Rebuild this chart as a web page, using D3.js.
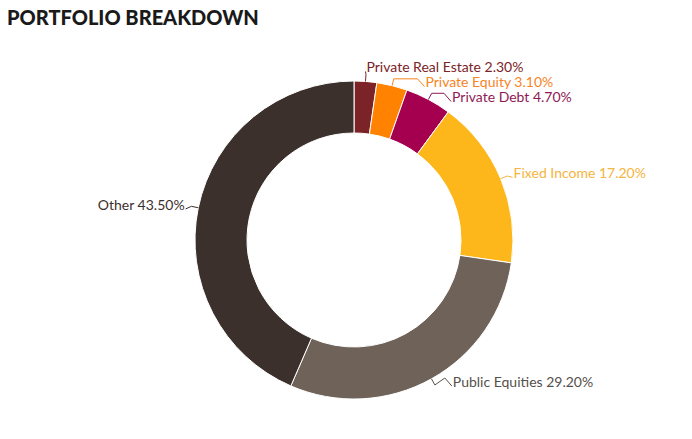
<!DOCTYPE html>
<html lang="en">
<head>
<meta charset="utf-8">
<title>Portfolio Breakdown</title>
<script src="https://cdnjs.cloudflare.com/ajax/libs/d3/7.8.5/d3.min.js"></script>
<style>
  body { margin: 0; background: #fff; }
  svg text { font-family: Lato, "Open Sans", sans-serif; }
</style>
</head>
<body>
<script>
// chart data
var categories = ["Private Real Estate", "Private Equity", "Private Debt", "Fixed Income", "Public Equities", "Other"];
var shares = [2.3, 3.1, 4.7, 17.2, 29.2, 43.5];
var sliceColors = ["#7b2327", "#ff8200", "#a50050", "#fdb71a", "#6e6259", "#3b302c"];
var labelColors = ["#7b2327", "#f7841f", "#8e1a55", "#f6b440", "#55504b", "#3b302c"];

var W = 692, H = 439;
var cx = 354, cy = 240;
var outerR = 159, innerR = 107;
var labelR = 173;
var plotBottom = 390; // labels are kept inside the plot area

var svg = d3.select("body").append("svg")
    .attr("width", W)
    .attr("height", H);

svg.append("text")
    .attr("x", 7)
    .attr("y", 25)
    .attr("font-size", "20px")
    .attr("font-weight", "900")
    .attr("fill", "#1a1a1a")
    .text("PORTFOLIO BREAKDOWN");

var data = categories.map(function(c, i) {
  return {name: c, value: shares[i], color: sliceColors[i], lcolor: labelColors[i]};
});

var pie = d3.pie().sort(null).value(function(d) { return d.value; });
var arcs = pie(data);

var arc = d3.arc().innerRadius(innerR).outerRadius(outerR);

var g = svg.append("g").attr("transform", "translate(" + cx + "," + cy + ")");

g.selectAll("path.slice")
  .data(arcs)
  .enter().append("path")
    .attr("class", "slice")
    .attr("d", arc)
    .attr("fill", function(d) { return d.data.color; })
    .attr("stroke", "#fff")
    .attr("stroke-width", 1);

// label layout: natural spot on a circle, then push apart
arcs.forEach(function(d) {
  var a = (d.startAngle + d.endAngle) / 2;
  d.mid = a;
  d.right = Math.sin(a) >= 0;
  d.ly = -labelR * Math.cos(a);
  d.ly = Math.min(d.ly, plotBottom - 8 - cy);
});

function spread(list, gap) {
  list.sort(function(a, b) { return a.ly - b.ly; });
  for (var i = 1; i < list.length; i++) {
    if (list[i].ly - list[i - 1].ly < gap) list[i].ly = list[i - 1].ly + gap;
  }
}
spread(arcs.filter(function(d) { return d.right; }), 15);
spread(arcs.filter(function(d) { return !d.right; }), 15);

arcs.forEach(function(d) {
  var dx = Math.sqrt(Math.max(0, labelR * labelR - d.ly * d.ly));
  if (dx < 9) dx = 9;
  d.lx = d.right ? dx : -dx;
});

var line = d3.line();

g.selectAll("path.leader")
  .data(arcs)
  .enter().append("path")
    .attr("class", "leader")
    .attr("fill", "none")
    .attr("stroke", function(d) { return d.data.lcolor; })
    .attr("stroke-width", 1)
    .attr("d", function(d) {
      var s = Math.sin(d.mid), c = -Math.cos(d.mid);
      var p1 = [s * outerR, c * outerR];
      var p2 = [s * (outerR + 7), c * (outerR + 7)];
      var side = d.right ? 1 : -1;
      var p3 = [d.lx - side * 8, p2[1] < d.ly ? p2[1] : d.ly - 4];
      if (Math.abs(p3[0] - p2[0]) < 2 || side * (p3[0] - p2[0]) < 0) p3 = p2;
      var p4 = [d.lx - side * 1, d.ly + 4];
      return line([p1, p2, p3, p4]);
    });

g.selectAll("text.lbl")
  .data(arcs)
  .enter().append("text")
    .attr("class", "lbl")
    .attr("x", function(d) { return d.lx; })
    .attr("y", function(d) { return d.ly; })
    .attr("dy", "0.35em")
    .attr("text-anchor", function(d) { return d.right ? "start" : "end"; })
    .attr("font-size", "14px")
    .attr("fill", function(d) { return d.data.lcolor; })
    .text(function(d) { return d.data.name + " " + d.data.value.toFixed(2) + "%"; });
</script>
</body>
</html>
